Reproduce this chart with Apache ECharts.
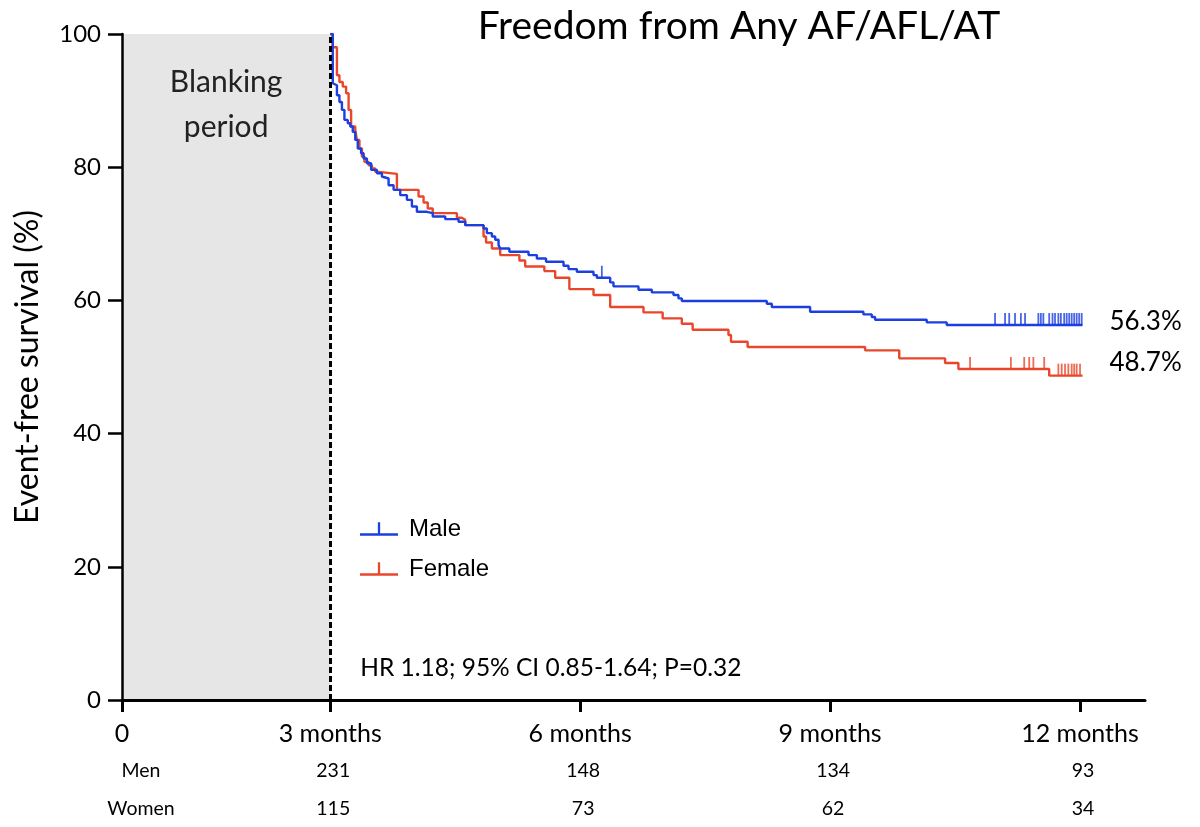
<!DOCTYPE html>
<html>
<head>
<meta charset="utf-8">
<script src="https://cdn.jsdelivr.net/npm/echarts@6/dist/echarts.min.js"></script>
<style>html,body{margin:0;padding:0;background:#fff;}#c{width:1200px;height:827px;}</style>
</head>
<body>
<div id="c"></div>
<script>
// ---- data (x in months after ablation, y in % event-free) ----
const maleT = [3.00,3.03,3.05,3.08,3.11,3.14,3.17,3.21,3.24,3.27,3.30,3.33,3.37,3.40,3.44,3.49,3.56,3.62,3.64,3.70,3.76,3.84,3.92,3.98,4.04,4.16,4.23,4.38,4.54,4.62,4.84,4.88,4.94,4.98,5.02,5.04,5.15,5.38,5.48,5.59,5.80,5.86,5.96,6.16,6.20,6.36,6.40,6.70,6.86,7.12,7.18,7.22,8.24,8.30,8.76,9.40,9.50,9.54,10.16,10.40,12.03];
const maleS = [100,92.6,92.3,90.8,89.8,88.6,87.1,86.6,86.1,85.3,84.1,82.8,82.1,81.3,80.6,79.6,79.1,78.6,78.3,77.3,76.6,75.8,75.1,74.1,73.3,73.1,72.6,72.2,71.8,71.3,70.8,70.1,69.6,69.1,68.3,67.8,67.3,66.8,66.3,65.8,65.2,64.7,64.3,63.8,63.4,62.7,62.1,61.6,61.2,60.8,60.3,59.9,59.5,59.0,58.3,57.9,57.5,57.1,56.7,56.3,56.3];
const femaleT = [3.00,3.03,3.08,3.11,3.15,3.19,3.22,3.25,3.30,3.32,3.35,3.38,3.41,3.46,3.50,3.54,3.58,3.80,4.06,4.12,4.17,4.23,4.52,4.58,4.62,4.84,4.87,4.94,5.04,5.27,5.34,5.57,5.70,5.87,6.16,6.36,6.76,6.99,7.22,7.35,7.78,7.81,8.01,9.42,9.83,10.38,10.54,11.63,12.03];
const femaleS = [100,98.0,93.8,92.8,92.1,91.1,88.6,86.1,85.6,84.1,82.8,81.6,80.8,80.3,79.8,79.3,79.0,76.6,75.6,74.7,73.8,73.1,72.4,72.1,71.3,69.6,68.7,67.8,66.8,66.0,65.1,64.4,63.4,61.7,60.8,59.0,58.2,57.3,56.5,55.6,54.8,53.8,53.0,52.5,51.3,50.6,49.7,48.7,48.7];
const maleCensor = [6.26,10.98,11.10,11.15,11.22,11.29,11.34,11.50,11.53,11.56,11.63,11.67,11.70,11.74,11.77,11.81,11.84,11.87,11.90,11.93,11.96,11.99,12.02];
const femaleCensor = [10.68,11.17,11.33,11.39,11.44,11.57,11.74,11.78,11.82,11.86,11.90,11.93,11.96,12.00];
const tickValues = [0.5, 3, 6, 9, 12];
const tickLabels = ['0', '3 months', '6 months', '9 months', '12 months'];
const riskTimes = [3, 6, 9, 12];
const riskMen = [231, 148, 134, 93];
const riskWomen = [115, 73, 62, 34];
const seriesNames = ['Male', 'Female'];
const titleText = 'Freedom from Any AF/AFL/AT';
const statText = 'HR 1.18; 95% CI 0.85-1.64; P=0.32';
const blankingText = 'Blanking\nperiod';
const yName = 'Event-free survival (%)';

const BLUE = '#1c3fe0';
const RED = '#e9472c';
const FONT = 'Lato';

function stepAt(T, S, t) {
  let v = S[0];
  for (let i = 0; i < T.length; i++) { if (T[i] <= t) v = S[i]; }
  return v;
}
const zip = (T, S) => T.map((t, i) => [t, S[i]]);
const censorPts = (C, T, S) => C.map(t => [t, stepAt(T, S, t)]);

const iconT = 'path://M0,11.5 L40,11.5 L40,14 L0,14 Z M18.8,0 L21.2,0 L21.2,13 L18.8,13 Z';

const chart = echarts.init(document.getElementById('c'));
const option = {
  animation: false,
  backgroundColor: '#fff',
  title: {
    text: titleText, left: 734, top: 2, textAlign: 'center',
    textStyle: { fontFamily: FONT, fontSize: 39, fontWeight: 'normal', color: '#000' }
  },
  grid: { left: 122, right: 55, top: 34, bottom: 127 },
  legend: {
    left: 355, top: 512, orient: 'vertical', itemWidth: 38, itemHeight: 14, itemGap: 16,
    textStyle: { fontFamily: 'Liberation Sans', fontSize: 24, color: '#000', padding: [0, 0, 0, 6] },
    data: [{ name: seriesNames[0], icon: iconT, itemStyle: { color: BLUE } },
           { name: seriesNames[1], icon: iconT, itemStyle: { color: RED } }]
  },
  xAxis: {
    type: 'value', min: 0.5, max: 12.78,
    axisLine: { lineStyle: { color: '#000', width: 3 } },
    axisTick: { show: true, customValues: tickValues, length: 12, lineStyle: { color: '#000', width: 3 } },
    axisLabel: {
      customValues: tickValues, margin: 21, fontFamily: FONT, fontSize: 25, color: '#000',
      formatter: v => tickLabels[tickValues.indexOf(v)]
    },
    splitLine: { show: false }
  },
  yAxis: {
    type: 'value', min: 0, max: 100, interval: 20,
    name: yName, nameLocation: 'middle', nameRotate: 90, nameGap: 78,
    nameTextStyle: { fontFamily: FONT, fontSize: 32, color: '#000' },
    axisLine: { show: true, lineStyle: { color: '#000', width: 2.5 } },
    axisTick: { show: true, length: 14, lineStyle: { color: '#000', width: 2.5 } },
    axisLabel: { margin: 21, fontFamily: FONT, fontSize: 24, color: '#000' },
    splitLine: { show: false }
  },
  series: [
    {
      name: seriesNames[0], type: 'line', step: 'end', showSymbol: false, z: 4,
      data: zip(maleT, maleS),
      lineStyle: { color: BLUE, width: 2.4 }, itemStyle: { color: BLUE },
      endLabel: { show: true, distance: 27, offset: [0, -3], fontFamily: FONT, fontSize: 26, color: '#000',
        formatter: p => p.value[1].toFixed(1) + '%' },
      markArea: {
        silent: true, z: 0,
        itemStyle: { color: '#e6e6e6' },
        label: { show: true, position: 'insideTop', distance: 26, fontFamily: FONT, fontSize: 30, lineHeight: 45, color: '#222', align: 'center' },
        data: [[{ xAxis: 0.5, yAxis: 0, name: blankingText }, { xAxis: 3, yAxis: 100 }]]
      },
      markLine: {
        silent: true, symbol: 'none', z: 5,
        lineStyle: { color: '#000', width: 3, type: [6, 3] },
        label: { show: false },
        data: [{ xAxis: 3 }]
      }
    },
    {
      name: seriesNames[1], type: 'line', step: 'end', showSymbol: false, z: 3,
      data: zip(femaleT, femaleS),
      lineStyle: { color: RED, width: 2.4 }, itemStyle: { color: RED },
      endLabel: { show: true, distance: 27, offset: [0, -13], fontFamily: FONT, fontSize: 26, color: '#000',
        formatter: p => p.value[1].toFixed(1) + '%' }
    },
    {
      name: seriesNames[0], type: 'scatter', silent: true, z: 4,
      symbol: 'rect', symbolSize: [1.8, 12], symbolOffset: [0, -6],
      itemStyle: { color: BLUE }, data: censorPts(maleCensor, maleT, maleS)
    },
    {
      name: seriesNames[1], type: 'scatter', silent: true, z: 3,
      symbol: 'rect', symbolSize: [1.8, 12], symbolOffset: [0, -6],
      itemStyle: { color: RED }, data: censorPts(femaleCensor, femaleT, femaleS)
    }
  ]
};
chart.setOption(option);

// annotation texts and numbers-at-risk, positioned from the axis scales
const gfx = [];
const hrPos = chart.convertToPixel({ gridIndex: 0 }, [3.36, 4.2]);
gfx.push({ type: 'text', left: hrPos[0], top: hrPos[1] - 16,
  style: { text: statText, fontFamily: FONT, fontSize: 24.5, fill: '#000' } });
const x0 = chart.convertToPixel({ gridIndex: 0 }, [0.5, 0])[0];
const rowY = [771, 809];
const rf = 19.5;
gfx.push({ type: 'text', x: x0 + 19, y: rowY[0], style: { text: 'Men', fontFamily: FONT, fontSize: rf, fill: '#000', align: 'center', verticalAlign: 'middle' } });
gfx.push({ type: 'text', x: x0 + 19, y: rowY[1], style: { text: 'Women', fontFamily: FONT, fontSize: rf, fill: '#000', align: 'center', verticalAlign: 'middle' } });
riskTimes.forEach((t, i) => {
  const px = chart.convertToPixel({ gridIndex: 0 }, [t, 0])[0];
  gfx.push({ type: 'text', x: px + 3, y: rowY[0], style: { text: String(riskMen[i]), fontFamily: FONT, fontSize: rf, fill: '#000', align: 'center', verticalAlign: 'middle' } });
  gfx.push({ type: 'text', x: px + 3, y: rowY[1], style: { text: String(riskWomen[i]), fontFamily: FONT, fontSize: rf, fill: '#000', align: 'center', verticalAlign: 'middle' } });
});
chart.setOption({ graphic: gfx });
</script>
</body>
</html>
